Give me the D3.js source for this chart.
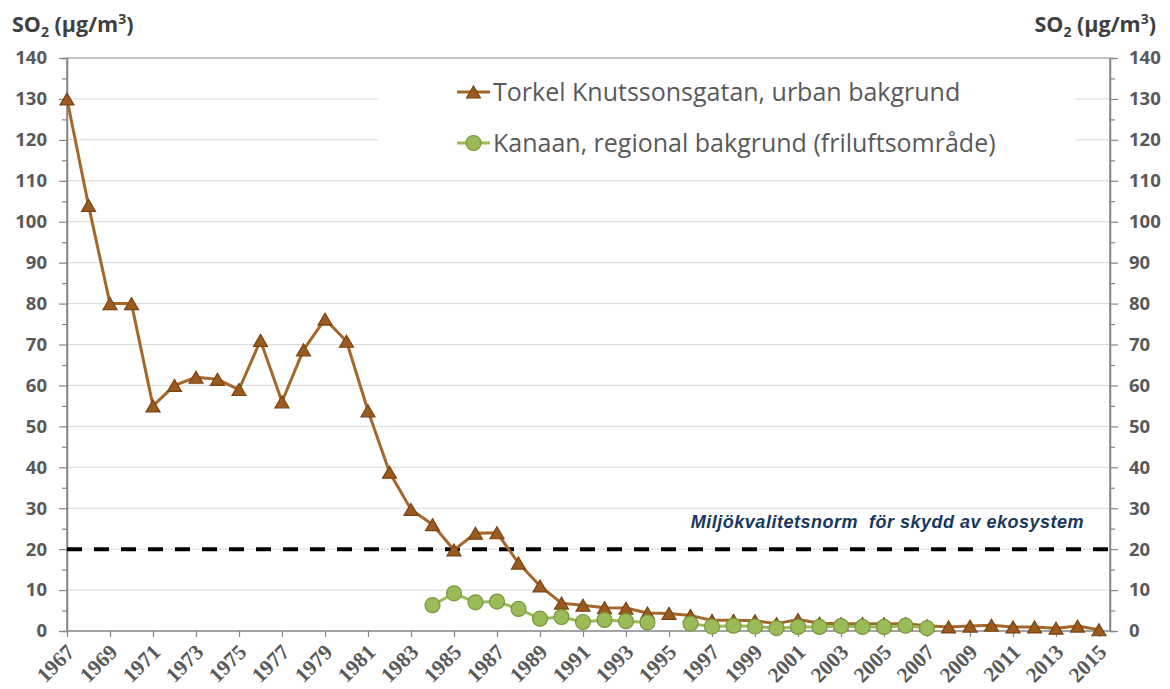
<!DOCTYPE html>
<html>
<head>
<meta charset="utf-8">
<title>SO2</title>
<script src="https://cdn.jsdelivr.net/npm/d3@7/dist/d3.min.js"></script>
<style>
  body { margin: 0; background: #fff; }
  .ylab text { font-family: 'Open Sans', sans-serif; font-weight: 700; font-size: 18.5px; fill: #595959; }
  .xlab text { font-family: 'Liberation Serif', serif; font-weight: 700; font-size: 21.5px; fill: #595959; }
</style>
</head>
<body>
<svg width="1170" height="689" id="mainsvg"></svg>
<script>
  const years = [1967,1968,1969,1970,1971,1972,1973,1974,1975,1976,1977,1978,1979,1980,1981,1982,1983,1984,1985,1986,1987,1988,1989,1990,1991,1992,1993,1994,1995,1996,1997,1998,1999,2000,2001,2002,2003,2004,2005,2006,2007,2008,2009,2010,2011,2012,2013,2014,2015];
  const torkel = [130,104,80,80,55,60,62,61.5,59,71,56,68.7,76.2,70.8,53.8,38.8,29.7,26,19.8,23.9,24,16.6,11,6.8,6.3,5.7,5.6,4.4,4.3,3.8,2.6,2.6,2.5,1.8,2.8,1.9,1.8,1.8,1.8,1.8,1.3,1.0,1.2,1.4,1.0,1.0,0.7,1.2,0.3];
  const kanaanYears = [1984,1985,1986,1987,1988,1989,1990,1991,1992,1993,1994,1995,1996,1997,1998,1999,2000,2001,2002,2003,2004,2005,2006,2007];
  const kanaan = [6.3,9.2,7.0,7.2,5.4,3.0,3.4,2.2,2.7,2.4,2.1,null,1.8,1.1,1.3,1.1,0.7,1.0,1.0,1.2,1.0,1.0,1.3,0.7];
  const yTicks = [0,10,20,30,40,50,60,70,80,90,100,110,120,130,140];
  const xTicks = [1967,1969,1971,1973,1975,1977,1979,1981,1983,1985,1987,1989,1991,1993,1995,1997,1999,2001,2003,2005,2007,2009,2011,2013,2015];
  const normValue = 20;
  const seriesNames = ['Torkel Knutssonsgatan, urban bakgrund', 'Kanaan, regional bakgrund (friluftsområde)'];
  const normLabel = 'Miljökvalitetsnorm  för skydd av ekosystem';

  const svg = d3.select('#mainsvg');
  const plotLeft = 67, plotRight = 1110, plotTop = 58, plotBottom = 631;

  const xScale = d3.scaleLinear().domain([1967, 2015]).range([plotLeft, 1099]);
  const yScale = d3.scaleLinear().domain([0, 140]).range([plotBottom, plotTop]);

  const brownLine = '#a4672c', brownFill = '#9a5a20', brownEdge = '#7a4412';
  const greenLine = '#9bbb59', greenFill = '#9bbb59', greenEdge = '#79983d';
  const triPath = 'M0,-6L7,6L-7,6Z';

  // gridlines
  svg.append('g').selectAll('line')
    .data(yTicks.filter(d => d > 0 && d < 140))
    .join('line')
    .attr('x1', plotLeft).attr('x2', plotRight)
    .attr('y1', d => yScale(d)).attr('y2', d => yScale(d))
    .attr('stroke', '#d9d9d9').attr('stroke-width', 1);
  svg.append('line')
    .attr('x1', plotLeft).attr('x2', plotRight)
    .attr('y1', yScale(140)).attr('y2', yScale(140))
    .attr('stroke', '#8c8c8c').attr('stroke-width', 1.2);

  // legend box covers grid
  svg.append('rect').attr('x', 378).attr('y', 60).attr('width', 698).attr('height', 106).attr('fill', '#fff');

  // axes
  const minor = yTicks.slice(0, -1).map(d => d + 5);
  const yAxisL = svg.append('g').attr('class', 'ylab').attr('transform', `translate(${plotLeft},0)`)
    .call(d3.axisLeft(yScale).tickValues(yTicks).tickSize(8).tickPadding(12));
  svg.append('g').attr('transform', `translate(${plotLeft},0)`)
    .call(d3.axisLeft(yScale).tickValues(minor).tickSize(5).tickFormat(''));
  const yAxisR = svg.append('g').attr('class', 'ylab').attr('transform', `translate(${plotRight},0)`)
    .call(d3.axisRight(yScale).tickValues(yTicks).tickSize(8).tickPadding(11));
  svg.append('g').attr('transform', `translate(${plotRight},0)`)
    .call(d3.axisRight(yScale).tickValues(minor).tickSize(5).tickFormat(''));
  const xAxis = svg.append('g').attr('class', 'xlab').attr('transform', `translate(0,${plotBottom})`)
    .call(d3.axisBottom(xScale).tickValues(xTicks).tickSize(6).tickFormat(d3.format('d')));
  xAxis.select('.domain').attr('d', `M${plotLeft},0H${plotRight}`);
  xAxis.selectAll('.tick text')
    .attr('text-anchor', 'end')
    .attr('transform', 'translate(3,17) rotate(-45)')
    .attr('dy', '0.35em').attr('y', 0);
  svg.selectAll('.domain').attr('stroke', '#868686').attr('stroke-width', 1.5);
  svg.selectAll('.tick line').attr('stroke', '#868686').attr('stroke-width', 1.2);
  yAxisL.select('.domain').attr('d', `M0,${plotBottom}V${plotTop}`);
  yAxisR.select('.domain').attr('d', `M0,${plotBottom}V${plotTop}`);

  // norm line
  svg.append('line')
    .attr('x1', plotLeft).attr('x2', plotRight)
    .attr('y1', yScale(normValue)).attr('y2', yScale(normValue))
    .attr('stroke', '#000').attr('stroke-width', 4)
    .attr('stroke-dasharray', '15,12');
  svg.append('text')
    .attr('x', 1084).attr('y', yScale(normValue) - 21)
    .attr('text-anchor', 'end')
    .style('font-family', "'Liberation Sans', Arial, sans-serif")
    .style('font-weight', 700).style('font-style', 'italic')
    .style('font-size', '18px').style('fill', '#17375e')
    .style('letter-spacing', '0.5px')
    .style('white-space', 'pre')
    .text(normLabel);

  // Torkel series
  const tData = years.map((y, i) => ({year: y, value: torkel[i]}));
  svg.append('path').datum(tData)
    .attr('fill', 'none').attr('stroke', brownLine).attr('stroke-width', 3).attr('stroke-linejoin', 'round')
    .attr('d', d3.line().x(d => xScale(d.year)).y(d => yScale(d.value)));
  svg.append('g').selectAll('path').data(tData).join('path')
    .attr('d', triPath)
    .attr('transform', d => `translate(${xScale(d.year)},${yScale(d.value)})`)
    .attr('fill', brownFill).attr('stroke', brownEdge).attr('stroke-width', 1.2);

  // Kanaan series
  const kData = kanaanYears.map((y, i) => ({year: y, value: kanaan[i]}));
  svg.append('path').datum(kData)
    .attr('fill', 'none').attr('stroke', greenLine).attr('stroke-width', 3).attr('stroke-linejoin', 'round')
    .attr('d', d3.line().defined(d => d.value !== null).x(d => xScale(d.year)).y(d => yScale(d.value)));
  svg.append('g').selectAll('circle').data(kData.filter(d => d.value !== null)).join('circle')
    .attr('cx', d => xScale(d.year)).attr('cy', d => yScale(d.value)).attr('r', 7.5)
    .attr('fill', greenFill).attr('stroke', greenEdge).attr('stroke-width', 1.2);

  // legend
  const legend = svg.append('g');
  const legendY = [92, 143];
  legendY.forEach((ly, i) => {
    legend.append('line').attr('x1', 457).attr('x2', 490).attr('y1', ly).attr('y2', ly)
      .attr('stroke', i === 0 ? brownLine : greenLine).attr('stroke-width', 3);
    if (i === 0) {
      legend.append('path').attr('d', triPath).attr('transform', `translate(473.5,${ly})`)
        .attr('fill', brownFill).attr('stroke', brownEdge).attr('stroke-width', 1.2);
    } else {
      legend.append('circle').attr('cx', 473.5).attr('cy', ly).attr('r', 7.5)
        .attr('fill', greenFill).attr('stroke', greenEdge).attr('stroke-width', 1.2);
    }
    legend.append('text').attr('x', 493).attr('y', ly).attr('dy', '0.35em')
      .style('font-family', "'Open Sans', sans-serif").style('font-size', '25px').style('fill', '#595959')
      .text(seriesNames[i]);
  });

  // axis titles
  const titleStyle = t => t.style('font-family', "'Open Sans', sans-serif").style('font-weight', 700)
    .style('font-size', '21.5px').style('fill', '#404040');
  const addTitle = (x, anchor) => {
    const t = svg.append('text').attr('x', x).attr('y', 32).attr('text-anchor', anchor).call(titleStyle);
    t.append('tspan').text('SO');
    t.append('tspan').attr('dy', 5).style('font-size', '14px').text('2');
    t.append('tspan').attr('dy', -5).text(' (µg/m');
    t.append('tspan').attr('dy', -8).style('font-size', '14px').text('3');
    t.append('tspan').attr('dy', 8).text(')');
  };
  addTitle(12, 'start');
  addTitle(1156, 'end');
</script>
</body>
</html>
